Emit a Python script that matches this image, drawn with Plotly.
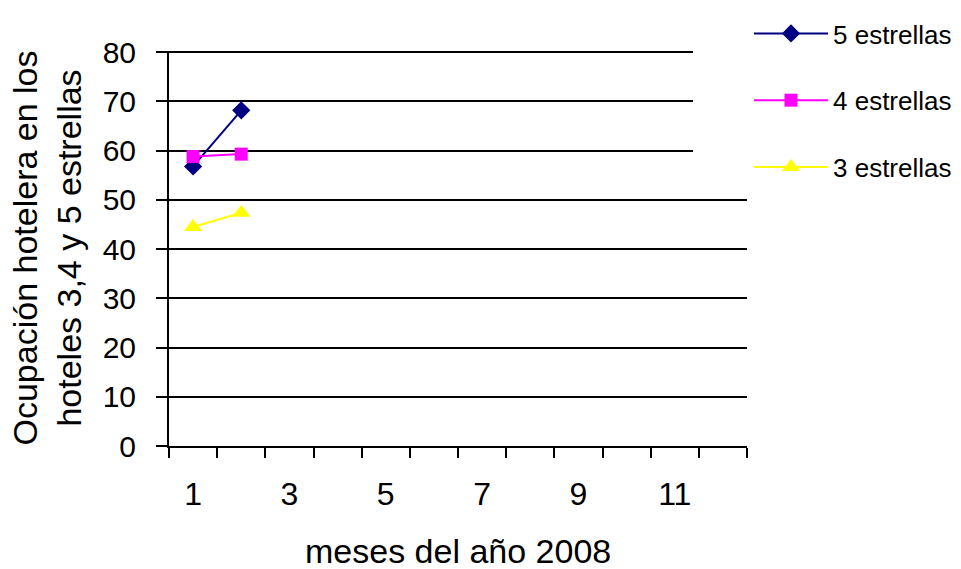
import plotly.graph_objects as go

months = [1, 2]
series_names = ["5 estrellas", "4 estrellas", "3 estrellas"]
values_5 = [56.8, 68.2]
values_4 = [58.8, 59.3]
values_3 = [44.5, 47.4]
x_tick_labels = [1, 3, 5, 7, 9, 11]
category_bounds = [0.5 + i for i in range(13)]
y_ticks = [0, 10, 20, 30, 40, 50, 60, 70, 80]

colors = ["#000080", "#FF00FF", "#FFFF00"]
symbols = ["diamond", "square", "triangle-up"]
sizes = [14, 13, 16]
series_values = [values_5, values_4, values_3]

fig = go.Figure()
for i, (name, vals) in enumerate(zip(series_names, series_values)):
    fig.add_trace(go.Scatter(
        x=months, y=vals, name=name, mode="lines+markers",
        legendgroup=name,
        line=dict(color=colors[i], width=2),
        marker=dict(symbol=symbols[i], size=sizes[i], color=colors[i],
                    line=dict(width=0)),
    ))

W, H = 961, 569
L, R, T, B = 169, 214, 51, 123
pw = W - L - R
ph = H - T - B

fig.update_layout(
    width=W, height=H,
    margin=dict(l=L, r=R, t=T, b=B, pad=0, autoexpand=False),
    paper_bgcolor="white", plot_bgcolor="white",
    font=dict(family="Liberation Sans, Arial, sans-serif", color="black"),
    showlegend=True,
    legend=dict(
        x=(749 - L) / pw, y=1 + (T - 10) / ph, xanchor="left", yanchor="top",
        bgcolor="rgba(0,0,0,0)", borderwidth=0,
        font=dict(size=26, color="black"),
        tracegroupgap=30, itemwidth=74,
    ),
    xaxis=dict(
        range=[0.5, 12.5], tickmode="array", tickvals=x_tick_labels,
        ticktext=[str(v) for v in x_tick_labels],
        ticks="", showgrid=False, zeroline=False,
        showline=True, linecolor="black", linewidth=2,
        tickfont=dict(size=32), ticklabelstandoff=19,
        minor=dict(tickmode="array", tickvals=category_bounds, ticks="outside",
                   ticklen=10, tickwidth=2, tickcolor="black", showgrid=False),
    ),
    yaxis=dict(
        range=[0, 80.25], tickmode="array", tickvals=y_ticks,
        ticks="outside", ticklen=11, tickwidth=2, tickcolor="black",
        showgrid=True, gridcolor="black", gridwidth=2,
        zeroline=False, showline=True, linecolor="black", linewidth=2,
        tickfont=dict(size=30), ticklabelstandoff=14,
    ),
    shapes=[dict(type="rect", xref="paper", yref="paper",
                 x0=(693 - L) / pw, x1=(W - L) / pw,
                 y0=1 - (176 - T) / ph, y1=1 + T / ph,
                 fillcolor="white", line=dict(width=0), layer="above")],
    annotations=[
        dict(text="Ocupación hotelera en los<br>hoteles 3,4 y 5 estrellas",
             xref="paper", yref="paper", x=0, y=0.5, xshift=-(L - 46),
             xanchor="center", yanchor="middle", textangle=-90,
             showarrow=False, font=dict(size=34)),
        dict(text="meses del año 2008", xref="paper", yref="paper",
             x=0.5, y=0, yshift=-(551 - (H - B)), xanchor="center",
             yanchor="middle", showarrow=False, font=dict(size=34)),
    ],
)

fig.write_html("out.html", config={"displayModeBar": False},
               post_script="document.body.style.margin='0';document.body.style.overflow='hidden';")
